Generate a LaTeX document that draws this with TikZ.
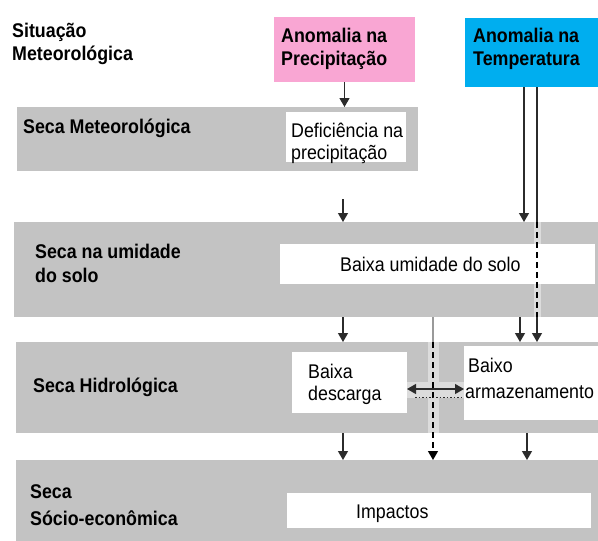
\documentclass[tikz,border=0pt]{standalone}
\usepackage{fontspec}
\setmainfont{Liberation Sans}[FakeStretch=0.9]
\usetikzlibrary{arrows.meta}
\definecolor{pinkbox}{HTML}{F9A6D3}
\definecolor{bluebox}{HTML}{00AEEF}
\definecolor{bandgray}{HTML}{C3C3C3}
\definecolor{stripgray}{HTML}{DCDCDC}
\definecolor{ink}{HTML}{2B2B2B}
\definecolor{lightline}{HTML}{9A9A9A}
\begin{document}
\begin{tikzpicture}[x=1pt,y=-1pt,
  box/.style={draw=none, anchor=north west, inner sep=0pt, outer sep=0pt},
  bandbox/.style={box, fill=bandgray},
  whitebox/.style={box, fill=white},
  lbl/.style={anchor=base west, inner sep=0pt, font=\fontsize{19.8}{23}\selectfont},
  blbl/.style={anchor=base west, inner sep=0pt, font=\fontsize{19.8}{23}\selectfont\bfseries},
  arr/.style={draw=ink, line width=1.2pt, -{Triangle[width=10pt,length=9pt]}},
  darr/.style={draw=ink, line width=1.2pt, {Triangle[width=10pt,length=9pt]}-{Triangle[width=10pt,length=9pt]}},
  plain/.style={draw=ink, line width=1.2pt},
  dashline/.style={draw=black, line width=1.3pt, dash pattern=on 6pt off 4pt},
  dashedarr/.style={dashline, -{Triangle[width=10pt,length=9pt]}},
]
\useasboundingbox (0,0) rectangle (598,541);
\fill[white] (0,0) rectangle (598,541);

% header boxes
\node[box, fill=pinkbox, minimum width=141pt, minimum height=65pt] (P) at (274,17) {};
\node[box, fill=bluebox, minimum width=133pt, minimum height=69pt] (T) at (465,18) {};

% bands
\node[bandbox, minimum width=401pt, minimum height=64pt] (B1) at (17,107) {};
\node[bandbox, minimum width=584pt, minimum height=95pt] (B2) at (14,222) {};
\node[bandbox, minimum width=582pt, minimum height=91pt] (B3) at (16,342) {};
\node[bandbox, minimum width=582pt, minimum height=81pt] (B4) at (16,460) {};

% light strips
\fill[stripgray] (534,222) rectangle (541,317);
\fill[stripgray] (428,342) rectangle (439,433);
\fill[stripgray] (407,382) rectangle (464,398);

% inner white boxes
\node[whitebox, minimum width=120pt, minimum height=50pt] (D) at (286,112) {};
\node[whitebox, minimum width=315pt, minimum height=40pt] (U) at (280,244) {};
\node[whitebox, minimum width=115pt, minimum height=61pt] (Q) at (292,352) {};
\node[whitebox, minimum width=134pt, minimum height=74pt] (A) at (464,346) {};
\node[whitebox, minimum width=304pt, minimum height=35pt] (I) at (287,493) {};

% texts
\node[blbl] (s1) at (12,37) {Situação};
\node[blbl] (s2) at (12,60) {Meteorológica};
\node[blbl] (p1) at (281,42) {Anomalia na};
\node[blbl] (p2) at (281,65) {Precipitação};
\node[blbl] (t1) at (473,42) {Anomalia na};
\node[blbl] (t2) at (473,65) {Temperatura};
\node[blbl] (l1) at (23,133) {Seca Meteorológica};
\node[lbl] (d1) at (291,137) {Deficiência na};
\node[lbl] (d2) at (291,159) {precipitação};
\node[blbl] (l2a) at (35,258) {Seca na umidade};
\node[blbl] (l2b) at (35,282) {do solo};
\node[lbl] (u1) at (340,271) {Baixa umidade do solo};
\node[blbl] (l3) at (33,392) {Seca Hidrológica};
\node[lbl] (q1) at (308,378) {Baixa};
\node[lbl] (q2) at (308,400) {descarga};
\node[lbl] (a1) at (468,372) {Baixo};
\node[lbl] (a2) at (465,398) {armazenamento};
\node[blbl] (l4a) at (30,498) {Seca};
\node[blbl] (l4b) at (30,525) {Sócio-econômica};
\node[lbl] (i1) at (356,518) {Impactos};

% connectors
\coordinate (c1) at (343,199);
\coordinate (ta) at (524,87);
\coordinate (tb) at (537,87);
\coordinate (x1) at (343,317);
\coordinate (x2) at (520,317);
\coordinate (x3) at (433,317);
\coordinate (y1) at (343,433);
\coordinate (y2) at (527,433);
\coordinate (m) at (0,389);
\coordinate (m2) at (0,397);

\draw[arr] (P.south) -- (P.south |- B1.north);
\draw[arr] (c1) -- (c1 |- B2.north);
\draw[arr] (ta) -- (ta |- B2.north);
\draw[plain] (tb) -- (tb |- B2.north);
\draw[dashline] (tb |- B2.north) -- (tb |- B2.south);
\draw[arr] (tb |- B2.south) -- (tb |- B3.north);
\draw[arr] (x1) -- (x1 |- B3.north);
\draw[arr] (x2) -- (x2 |- B3.north);
\draw[draw=lightline, line width=1.2pt] (x3) -- (x3 |- B3.north);
\draw[dashedarr] (x3 |- B3.north) -- (x3 |- B4.north);
\draw[arr] (y1) -- (y1 |- B4.north);
\draw[arr] (y2) -- (y2 |- B4.north);
\draw[darr] (Q.east |- m) -- (A.west |- m);
\draw[draw=ink, line width=0.8pt, dash pattern=on 1.5pt off 2pt] (415,397) -- (A.west |- m2);
\end{tikzpicture}
\end{document}
